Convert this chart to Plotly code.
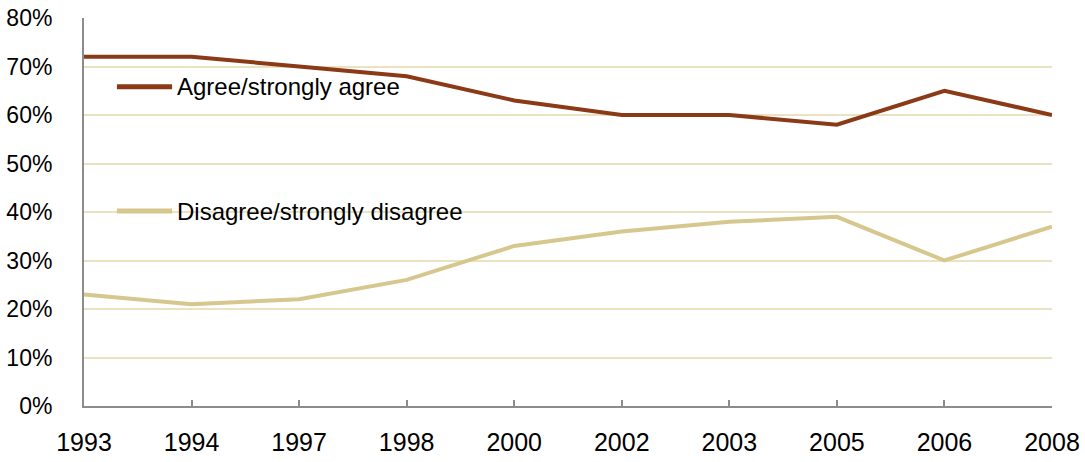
import plotly.graph_objects as go

years = ["1993", "1994", "1997", "1998", "2000", "2002", "2003", "2005", "2006", "2008"]
agree = [72, 72, 70, 68, 63, 60, 60, 58, 65, 60]
disagree = [23, 21, 22, 26, 33, 36, 38, 39, 30, 37]

series_names = ["Agree/strongly agree", "Disagree/strongly disagree"]
agree_color = "#8B3A17"
disagree_color = "#D6C78E"
grid_color = "#EAE2C0"
axis_color = "#8C8C8C"
font_family = "Liberation Sans, Arial, sans-serif"

fig = go.Figure()
fig.add_trace(go.Scatter(x=years, y=agree, mode="lines", name=series_names[0],
                         line=dict(color=agree_color, width=4)))
fig.add_trace(go.Scatter(x=years, y=disagree, mode="lines", name=series_names[1],
                         line=dict(color=disagree_color, width=4)))

# in-plot legend: short line sample followed by label
legend_rows = [(series_names[0], agree_color, 65.8), (series_names[1], disagree_color, 40.2)]
for label, color, ypos in legend_rows:
    fig.add_shape(type="line", xref="paper", yref="y",
                  x0=0.034, x1=0.091, y0=ypos, y1=ypos,
                  line=dict(color=color, width=5), layer="above")
    fig.add_annotation(xref="paper", yref="y", x=0.094, y=ypos, text=label,
                       showarrow=False, xanchor="left", yanchor="middle",
                       font=dict(family=font_family, size=24, color="#000000"))

fig.update_layout(
    width=1085, height=462,
    margin=dict(l=84, r=33, t=18, b=56, autoexpand=False),
    paper_bgcolor="white", plot_bgcolor="white",
    showlegend=False,
    font=dict(family=font_family, size=25, color="#000000"),
)
fig.update_xaxes(
    type="category", range=[0, 9],
    showgrid=False, showline=True, linecolor=axis_color, linewidth=2,
    ticks="inside", ticklen=6, tickcolor=axis_color, tickwidth=2,
    ticklabelstandoff=13,
    tickfont=dict(family=font_family, size=25),
)
fig.update_yaxes(
    range=[0, 80], dtick=10, ticksuffix="%",
    showgrid=True, gridcolor=grid_color, gridwidth=2,
    showline=True, linecolor=axis_color, linewidth=2,
    ticks="", ticklabelstandoff=25, zeroline=False,
    tickfont=dict(family=font_family, size=23),
)

fig.write_html("out.html")
